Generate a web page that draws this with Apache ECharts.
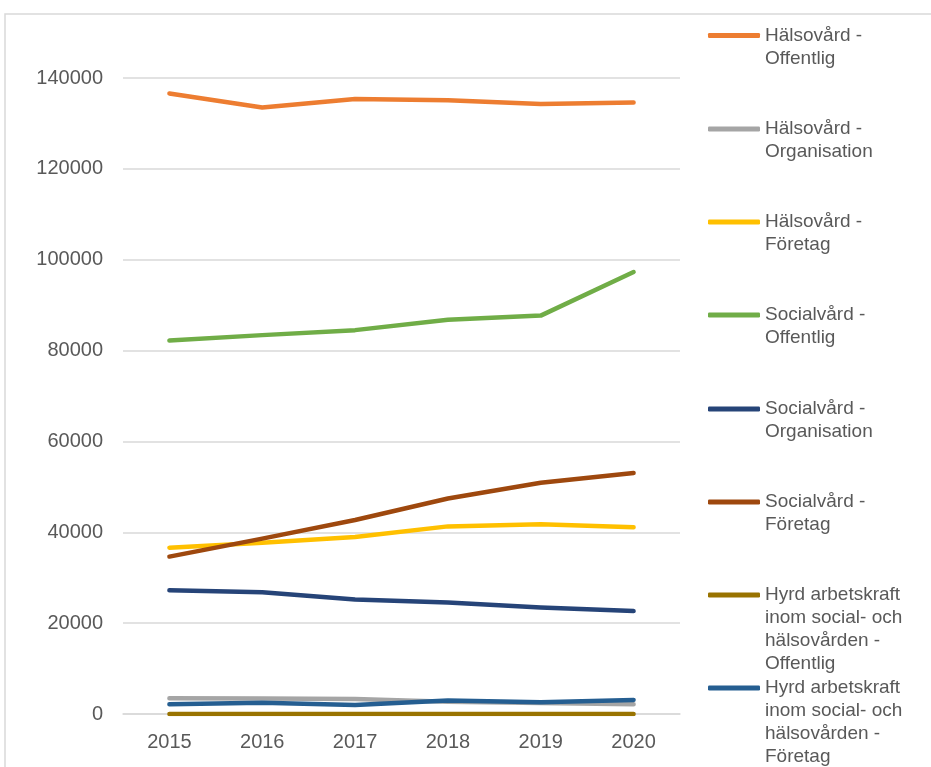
<!DOCTYPE html>
<html>
<head>
<meta charset="utf-8">
<script src="https://cdn.jsdelivr.net/npm/echarts@6/dist/echarts.min.js"></script>
<style>
  html, body { margin: 0; padding: 0; background: #fff; }
  #chart { width: 931px; height: 767px; }
</style>
</head>
<body>
<div id="chart"></div>
<script>
// years on the x axis
var years = ['2015', '2016', '2017', '2018', '2019', '2020'];

// series values
var halsoOffentlig = [136600, 133500, 135400, 135100, 134300, 134600];
var halsoOrganisation = [3450, 3400, 3300, 2700, 2400, 2150];
var halsoForetag = [36600, 37700, 38950, 41300, 41750, 41100];
var socialOffentlig = [82200, 83400, 84500, 86800, 87700, 97300];
var socialOrganisation = [27250, 26800, 25200, 24550, 23450, 22650];
var socialForetag = [34650, 38600, 42700, 47450, 50900, 53050];
var hyrdOffentlig = [0, 0, 0, 0, 0, 0];
var hyrdForetag = [2150, 2500, 2000, 2950, 2600, 3100];

// y axis ticks
var yMin = 0;
var yMax = 140000;
var yStep = 20000;

var seriesList = [
    {name: 'Hälsovård -\nOffentlig', data: halsoOffentlig, color: '#ED7D31'},
    {name: 'Hälsovård -\nOrganisation', data: halsoOrganisation, color: '#A5A5A5'},
    {name: 'Hälsovård -\nFöretag', data: halsoForetag, color: '#FFC000'},
    {name: 'Socialvård -\nOffentlig', data: socialOffentlig, color: '#70AD47'},
    {name: 'Socialvård -\nOrganisation', data: socialOrganisation, color: '#264478'},
    {name: 'Socialvård -\nFöretag', data: socialForetag, color: '#9E480E'},
    {name: 'Hyrd arbetskraft\ninom social- och\nhälsovården -\nOffentlig', data: hyrdOffentlig, color: '#997300'},
    {name: 'Hyrd arbetskraft\ninom social- och\nhälsovården -\nFöretag', data: hyrdForetag, color: '#255E91'}
];

// icon centre of each legend entry
var legendIconY = [35.5, 129, 222, 315, 409, 502, 595, 688];
var lineH = 23;

var legends = [];
var series = [];
seriesList.forEach(function (s, i) {
    var n = s.name.split('\n').length;
    // text is centred on the icon: blank lines on top keep the first line level with it
    var boxH = (2 * n - 1) * lineH;
    var pad = '';
    for (var k = 1; k < n; k++) pad += '\u00a0\n';
    legends.push({
        data: [s.name],
        orient: 'vertical',
        left: 708,
        top: legendIconY[i] - boxH / 2,
        padding: 0,
        icon: 'roundRect',
        itemWidth: 52,
        itemHeight: 5,
        formatter: function (name) { return pad + name; },
        textStyle: {
            fontFamily: 'Liberation Sans',
            fontSize: 19,
            color: '#595959',
            lineHeight: lineH
        }
    });
    series.push({
        name: s.name,
        type: 'line',
        data: s.data,
        symbol: 'none',
        color: s.color,
        lineStyle: {width: 4.5, color: s.color, cap: 'round', join: 'round'}
    });
});

var myChart = echarts.init(document.getElementById('chart'));
var option = {
    animation: false,
    backgroundColor: '#fff',
    graphic: [{
        type: 'rect',
        shape: {x: 5, y: 14, width: 1000, height: 1000},
        style: {fill: 'none', stroke: '#d9d9d9', lineWidth: 1.5},
        silent: true
    }],
    legend: legends,
    grid: {left: 123, right: 251, top: 78, bottom: 53},
    xAxis: {
        type: 'category',
        data: years,
        boundaryGap: true,
        axisLine: {lineStyle: {color: '#d9d9d9', width: 1.5}},
        axisTick: {show: false},
        axisLabel: {fontFamily: 'Liberation Sans', fontSize: 20, color: '#595959', margin: 18}
    },
    yAxis: {
        type: 'value',
        min: yMin,
        max: yMax,
        interval: yStep,
        axisLine: {show: false},
        axisTick: {show: false},
        splitLine: {lineStyle: {color: '#d9d9d9', width: 1.5}},
        axisLabel: {
            fontFamily: 'Liberation Sans', fontSize: 20, color: '#595959', margin: 20,
            formatter: function (v) { return String(v); }
        }
    },
    series: series
};
myChart.setOption(option);
</script>
</body>
</html>
